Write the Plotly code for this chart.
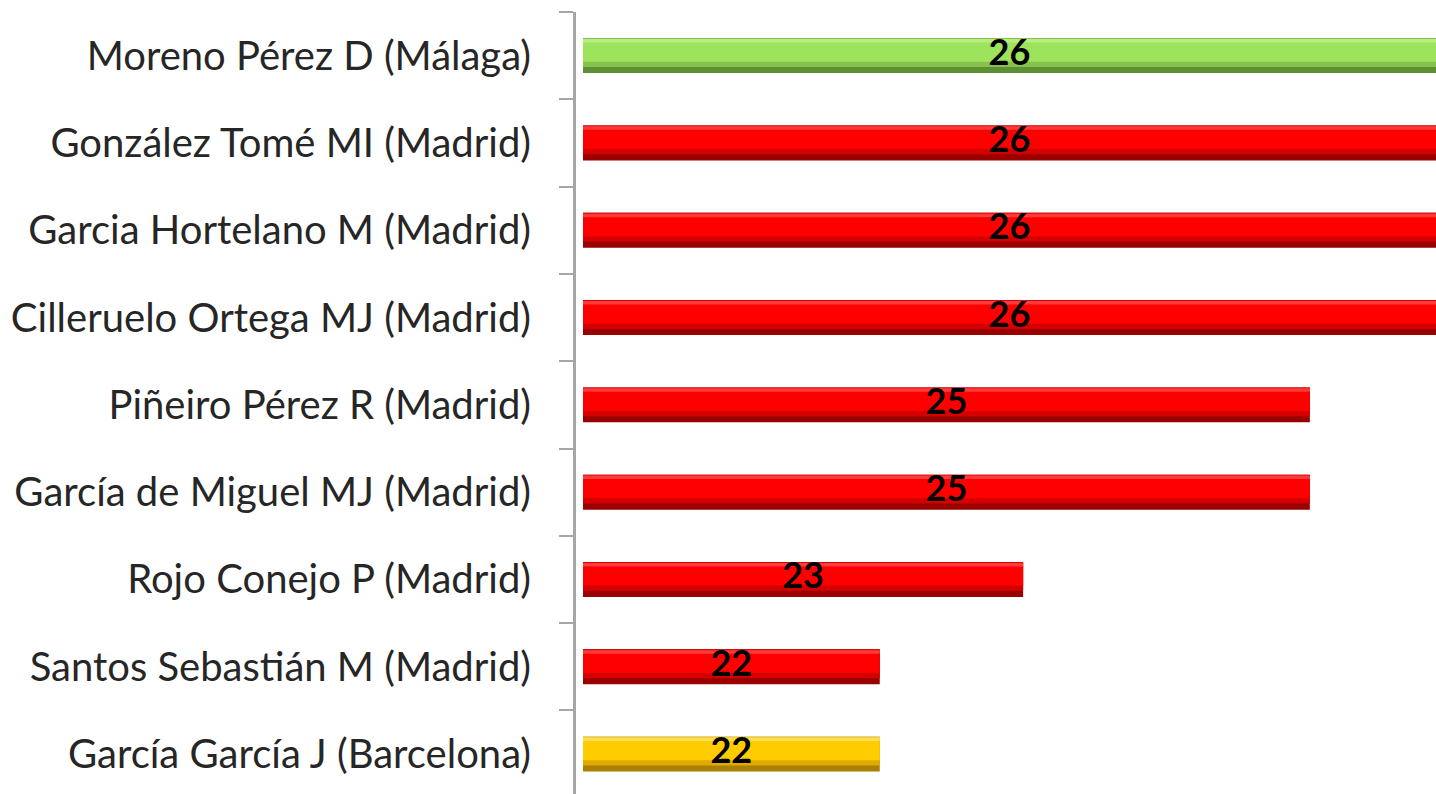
import plotly.graph_objects as go

categories = [
    "Moreno Pérez D (Málaga)",
    "González Tomé MI (Madrid)",
    "Garcia Hortelano M (Madrid)",
    "Cilleruelo Ortega MJ (Madrid)",
    "Piñeiro Pérez R (Madrid)",
    "García de Miguel MJ (Madrid)",
    "Rojo Conejo P (Madrid)",
    "Santos Sebastián M (Madrid)",
    "García García J (Barcelona)",
]
values = [26, 26, 26, 26, 25, 25, 23, 22, 22]
groups = ["Málaga", "Madrid", "Madrid", "Madrid", "Madrid", "Madrid", "Madrid", "Madrid", "Barcelona"]

palette = {
    "Málaga": ("#5f8f34", "#86c24c", "#9ee35c", "#b6ee80"),
    "Madrid": ("#9a0000", "#d40000", "#ff0000", "#ff3a3a"),
    "Barcelona": ("#a98000", "#e0aa00", "#ffcc00", "#ffdd55"),
}

X_MIN, X_MAX = 19.93, 25.88
fig = go.Figure()

shade_layers = [  # (colour index, width, offset)
    (0, 0.40, -0.20),
    (1, 0.33, -0.20),
    (2, 0.26, -0.19),
    (3, 0.04, -0.19),
]
for ci, w, off in shade_layers:
    fig.add_trace(go.Bar(
        y=categories, x=values, orientation="h",
        marker=dict(color=[palette[g][ci] for g in groups], line=dict(width=0)),
        width=w, offset=off, hoverinfo="skip", showlegend=False,
    ))

mid = [(X_MIN + min(v, X_MAX)) / 2 for v in values]
fig.add_trace(go.Scatter(
    y=categories, x=mid, mode="text", text=[str(v) for v in values],
    textposition="middle center",
    textfont=dict(family="Lato", size=36, color="black", weight="bold"),
    showlegend=False, hoverinfo="skip", cliponaxis=False,
))

fig.update_layout(
    width=1436, height=794,
    margin=dict(l=574, r=0, t=12, b=0),
    barmode="overlay",
    plot_bgcolor="white", paper_bgcolor="white",
    xaxis=dict(domain=[9 / 862, 1], range=[X_MIN, X_MAX], visible=False),
    yaxis=dict(
        categoryorder="array", categoryarray=categories,
        range=[8.457, -0.5], anchor="free", position=0,
        showline=True, linecolor="#a6a6a6", linewidth=3,
        ticks="outside", tickson="boundaries", ticklen=14,
        tickcolor="#a6a6a6", tickwidth=2,
        ticklabelstandoff=34,
        tickfont=dict(family="Lato", size=40, color="#262626"),
        showgrid=False,
    ),
)

fig.write_html(
    "out.html",
    config={"displayModeBar": False},
    post_script="document.body.style.margin='0';document.body.style.overflow='hidden';",
)
